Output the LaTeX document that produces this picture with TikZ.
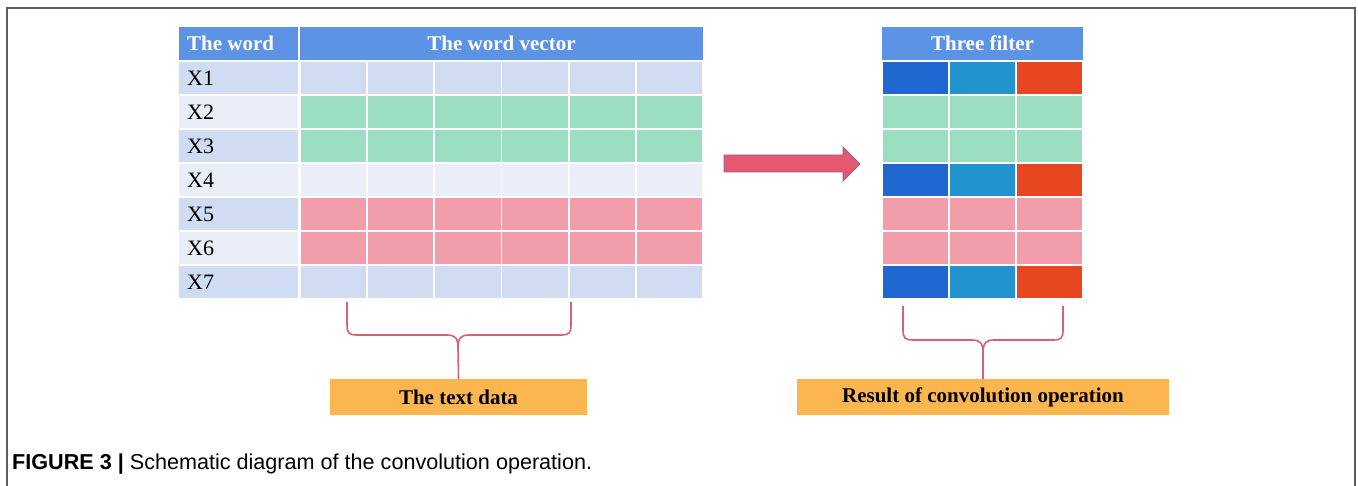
\documentclass[tikz,border=0pt]{standalone}
\usepackage{fontspec}
\setmainfont{Liberation Serif}
\newfontfamily\capfont{Liberation Sans}

\definecolor{framegray}{RGB}{95,95,95}
\definecolor{hdrblue}{RGB}{92,147,228}
\definecolor{labA}{RGB}{208,220,242}
\definecolor{labB}{RGB}{233,238,248}
\definecolor{vblue}{RGB}{209,220,242}
\definecolor{vpale}{RGB}{233,238,248}
\definecolor{vgreen}{RGB}{155,222,193}
\definecolor{vpink}{RGB}{241,158,170}
\definecolor{fdark}{RGB}{33,103,210}
\definecolor{fmid}{RGB}{33,148,208}
\definecolor{fred}{RGB}{232,70,32}
\definecolor{tagorange}{RGB}{251,182,79}
\definecolor{bracecol}{RGB}{217,96,122}
\definecolor{arrowred}{RGB}{230,87,112}
\definecolor{arrowedge}{RGB}{140,100,140}

\begin{document}
\begin{tikzpicture}[x=1pt,y=-1pt,
  cell/.style={draw=none, inner sep=0pt, minimum height=32.5pt},
  hdr/.style={draw=none, inner sep=0pt, minimum height=33pt, fill=hdrblue,
    text=white, font=\fontsize{21}{21}\selectfont\bfseries},
  hdrtext/.style={inner sep=0pt, anchor=west, text=white,
    font=\fontsize{21}{21}\selectfont\bfseries},
  lbl/.style={inner sep=0pt, anchor=west, font=\fontsize{22}{22}\selectfont},
  bracket/.style={draw=bracecol, line width=1.6pt},
  tag/.style={fill=tagorange, inner sep=0pt, minimum height=36pt,
    font=\fontsize{21}{21}\selectfont\bfseries},
  bigarrow/.style={fill=arrowred, draw=arrowedge, line width=0.8pt, line join=miter}]

\path[use as bounding box] (0,0) rectangle (1358,486);

% open frame around the figure
\draw[framegray, line width=1.8pt] (7,486) -- (7,8) -- (1355,8) -- (1355,486);

% table headers
\node[hdr, minimum width=119pt] (hw) at (238.5,43.5) {};
\node[hdrtext] (hwt) at (187,43.5) {The word};
\node[hdr, minimum width=403pt] (hv) at (501.5,43.5) {The word vector};
\node[hdr, minimum width=201pt] (hf) at (982.5,43.5) {Three filter};

% rows: label colour / vector colour / three filter colours
\foreach \i/\lc/\vc/\fa/\fb/\fc in {
    1/labA/vblue/fdark/fmid/fred,
    2/labB/vgreen/vgreen/vgreen/vgreen,
    3/labA/vgreen/vgreen/vgreen/vgreen,
    4/labB/vpale/fdark/fmid/fred,
    5/labA/vpink/vpink/vpink/vpink,
    6/labB/vpink/vpink/vpink/vpink,
    7/labA/vblue/fdark/fmid/fred} {
  \pgfmathsetmacro\yc{62+34*(\i-1)+16.25}
  \node[cell, fill=\lc, minimum width=119pt] (w\i) at (238.5,\yc) {};
  \node[lbl] (x\i) at (187,\yc) {X\i};
  \foreach \j in {1,...,6} {
    \node[cell, fill=\vc, minimum width=65.3pt] (v\i-\j) at ({300+67.17*(\j-0.5)},\yc) {};
  }
  \node[cell, fill=\fa, minimum width=65pt] (f\i-1) at (915.5,\yc) {};
  \node[cell, fill=\fb, minimum width=65pt] (f\i-2) at (982.5,\yc) {};
  \node[cell, fill=\fc, minimum width=65pt] (f\i-3) at (1049.5,\yc) {};
}

% block arrow between the tables
\draw[bigarrow] (724,155) -- (843,155) -- (843,147) -- (860,164)
  -- (843,181) -- (843,172) -- (724,172) -- cycle;

% labels under the tables
\node[tag, minimum width=257pt] (td) at (458.5,397) {The text data};
\node[tag, minimum width=372pt] (rd) at (983,397) {Result of convolution operation};

% brace under the word vectors
\coordinate (la) at (347,302);
\coordinate (lb) at (571,302);
\draw[bracket] (la) -- (347,325) .. controls (347,333) and (349,335) .. (357,335)
  -- (447,335) .. controls (455,335) and (458,338) .. (458,348) -- (td.north);
\draw[bracket] (lb) -- (571,325) .. controls (571,333) and (569,335) .. (561,335)
  -- (469,335) .. controls (461,335) and (458,338) .. (458,348);

% brace under the filter outputs
\coordinate (ra) at (903,306);
\coordinate (rb) at (1063,306);
\draw[bracket] (ra) -- (903,330) .. controls (903,338) and (905,340) .. (913,340)
  -- (972,340) .. controls (980,340) and (983,343) .. (983,353) -- (rd.north);
\draw[bracket] (rb) -- (1063,330) .. controls (1063,338) and (1061,340) .. (1053,340)
  -- (994,340) .. controls (986,340) and (983,343) .. (983,353);

% caption
\node[anchor=base west, inner sep=0pt, font=\capfont\fontsize{21.6}{21.6}\selectfont] (cap)
  at (12,469) {\textbf{FIGURE 3 |} Schematic diagram of the convolution operation.};

\end{tikzpicture}
\end{document}
